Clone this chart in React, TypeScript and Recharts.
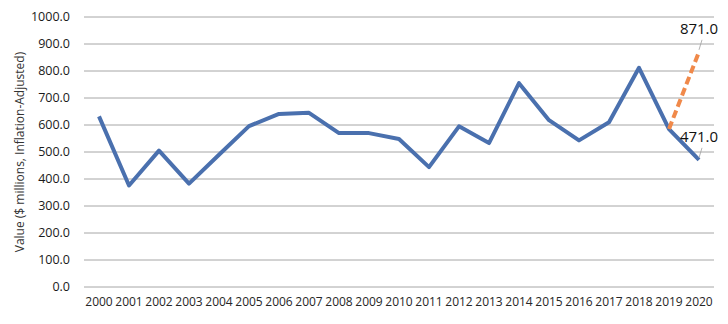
import React from 'react';
import { LineChart, Line, XAxis, YAxis, CartesianGrid } from 'recharts';

const years = ['2000', '2001', '2002', '2003', '2004', '2005', '2006', '2007', '2008', '2009', '2010',
    '2011', '2012', '2013', '2014', '2015', '2016', '2017', '2018', '2019', '2020'];
const values = [632, 376, 505, 383, 490, 596, 641, 645, 570, 570, 548,
    444, 595, 533, 755, 618, 543, 610, 812, 585, 471];
// projection only has the last two years
const projection: (number | null)[] = [null, null, null, null, null, null, null, null, null, null, null,
    null, null, null, null, null, null, null, null, 585, 871];
const yTicks = [0, 100, 200, 300, 400, 500, 600, 700, 800, 900, 1000];

const data = years.map((year, i) => ({ year, value: values[i], projection: projection[i] }));

const FONT = '"Open Sans", "Liberation Sans", sans-serif';
const lastIndex = years.length - 1;

function EndLabel(props: any) {
    const { x, y, value, index } = props;
    if (index !== lastIndex || value == null) return null;
    return (
        <g>
            <line x1={x + 3} y1={y - 12} x2={x} y2={y - 2} stroke="#a0a0a0" strokeWidth={0.8} />
            <text x={x} y={y - 18} textAnchor="middle" fontSize={15} fontFamily={FONT} fill="#111">
                {Number(value).toFixed(1)}
            </text>
        </g>
    );
}

export default function App() {
    return (
        <div style={{ position: 'absolute', left: 0, top: 0, width: 728, height: 324, background: '#fff' }}>
            <LineChart width={728} height={324} data={data} margin={{ top: 17, right: 14, left: 0, bottom: 7 }}>
                <CartesianGrid vertical={false} stroke="#a6a6a6" strokeWidth={1} />
                <XAxis
                    dataKey="year"
                    axisLine={false}
                    tickLine={false}
                    tickSize={0}
                    tickMargin={10}
                    height={30}
                    interval={0}
                    padding={{ left: 15, right: 15 }}
                    tick={{ fontSize: 12, fontFamily: FONT, fill: '#262626' }}
                />
                <YAxis
                    width={84}
                    domain={[0, 1000]}
                    ticks={yTicks}
                    axisLine={false}
                    tickLine={false}
                    tickSize={0}
                    tickMargin={14}
                    tickFormatter={(v) => Number(v).toFixed(1)}
                    tick={{ fontSize: 12.5, fontFamily: FONT, fill: '#1a1a1a' }}
                    label={{
                        value: 'Value ($ millions, Inflation-Adjusted)',
                        angle: -90,
                        position: 'insideLeft',
                        offset: 20,
                        textAnchor: 'middle',
                        style: { fontSize: 12, fontFamily: FONT, fill: '#333', textAnchor: 'middle' },
                    }}
                />
                <Line
                    type="linear"
                    dataKey="value"
                    stroke="#4a70ae"
                    strokeWidth={4}
                    dot={false}
                    strokeLinejoin="round"
                    isAnimationActive={false}
                    label={<EndLabel />}
                />
                <Line
                    type="linear"
                    dataKey="projection"
                    stroke="#f0894a"
                    strokeWidth={4}
                    strokeDasharray="8 4"
                    dot={false}
                    connectNulls={false}
                    isAnimationActive={false}
                    label={<EndLabel />}
                />
            </LineChart>
        </div>
    );
}
